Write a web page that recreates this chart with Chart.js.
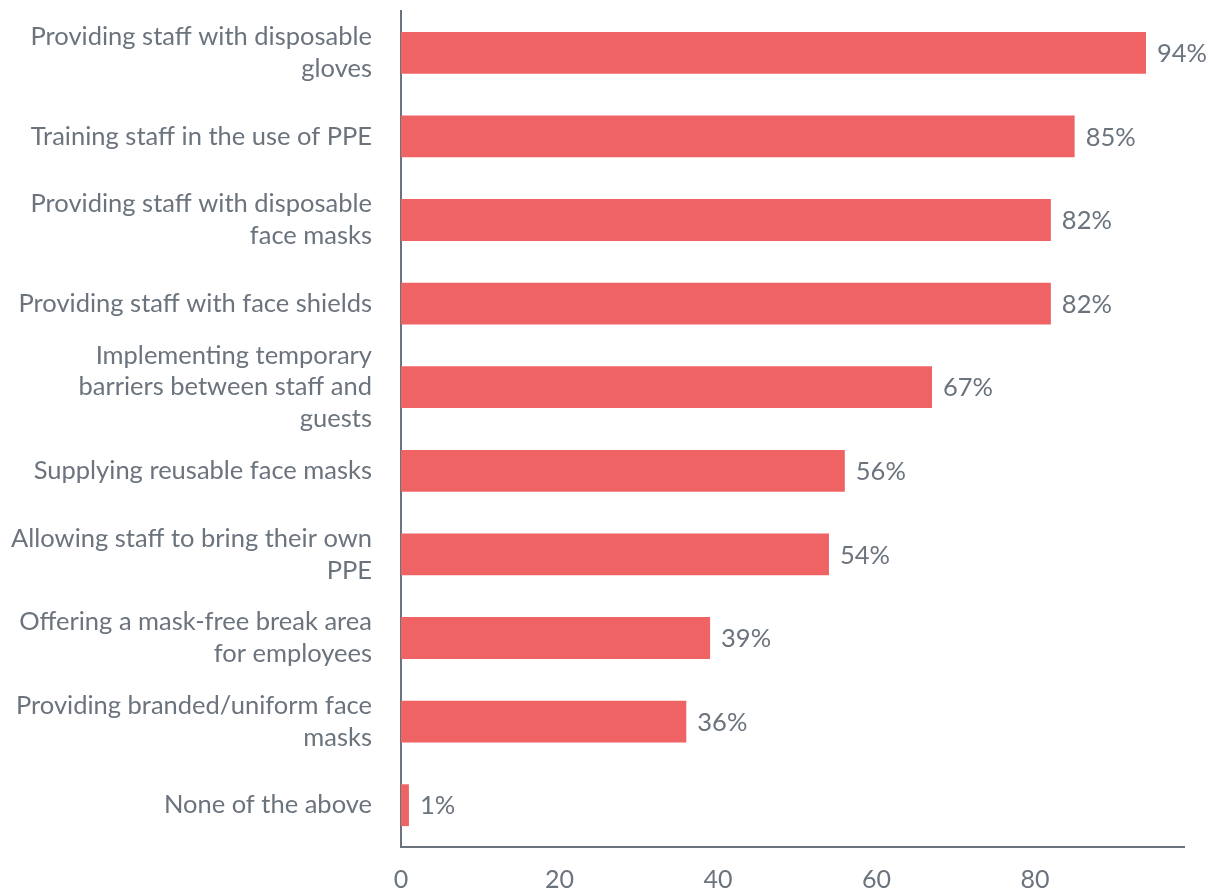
<!DOCTYPE html>
<html>
<head>
<meta charset="utf-8">
<script src="https://cdn.jsdelivr.net/npm/chart.js@4.4.1/dist/chart.umd.min.js"></script>
<style>
  html, body { margin: 0; padding: 0; background: #fff; }
  #wrap { width: 1215px; height: 890px; }
</style>
</head>
<body>
<div id="wrap"><canvas id="myChart"></canvas></div>
<script>
const categories = [
  ["Providing staff with disposable", "gloves"],
  "Training staff in the use of PPE",
  ["Providing staff with disposable", "face masks"],
  "Providing staff with face shields",
  ["Implementing temporary", "barriers between staff and", "guests"],
  "Supplying reusable face masks",
  ["Allowing staff to bring their own", "PPE"],
  ["Offering a mask-free break area", "for employees"],
  ["Providing branded/uniform face", "masks"],
  "None of the above"
];
const values = [94, 85, 82, 82, 67, 56, 54, 39, 36, 1];
const tickLabels = [0, 20, 40, 60, 80];

const textColor = "#6b737d";

// value labels at the end of each bar
const valueLabels = {
  id: "valueLabels",
  afterDatasetsDraw(chart) {
    const ctx = chart.ctx;
    const meta = chart.getDatasetMeta(0);
    ctx.save();
    ctx.font = "25.5px Lato";
    ctx.fillStyle = textColor;
    ctx.textBaseline = "middle";
    ctx.textAlign = "left";
    meta.data.forEach((bar, i) => {
      ctx.fillText(values[i] + "%", bar.x + 11, bar.y + 1);
    });
    ctx.restore();
  }
};

new Chart(document.getElementById("myChart").getContext("2d"), {
  type: "bar",
  data: {
    labels: categories,
    datasets: [{
      data: values,
      backgroundColor: "#f06365",
      barPercentage: 0.5,
      categoryPercentage: 1.0
    }]
  },
  options: {
    indexAxis: "y",
    responsive: true,
    maintainAspectRatio: false,
    animation: false,
    layout: { padding: { top: 11, right: 31, bottom: 0, left: 0 } },
    plugins: {
      legend: { display: false },
      tooltip: { enabled: false }
    },
    scales: {
      x: {
        min: 0,
        max: 98.8,
        grid: { display: false },
        border: { display: true, color: textColor, width: 2 },
        afterFit: (s) => { s.paddingLeft = 0; s.height = 43; },
        ticks: {
          stepSize: 20,
          color: textColor,
          font: { family: "Lato", size: 25 },
          padding: 10,
          callback: (v) => tickLabels.includes(v) ? v : ""
        }
      },
      y: {
        grid: { display: false },
        border: { display: true, color: textColor, width: 2 },
        afterFit: (s) => { s.paddingTop = 0; s.paddingBottom = 0; s.width = 401; },
        ticks: {
          autoSkip: false,
          color: textColor,
          font: { family: "Lato", size: 25.5, lineHeight: 1.25 },
          padding: 21
        }
      }
    }
  },
  plugins: [valueLabels]
});
</script>
</body>
</html>
